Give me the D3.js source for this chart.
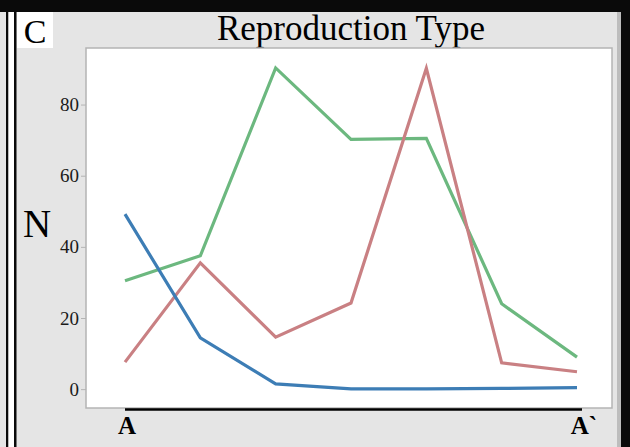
<!DOCTYPE html>
<html>
<head>
<meta charset="utf-8">
<script src="https://cdn.jsdelivr.net/npm/d3@7"></script>
<style>
body { margin: 0; background: #e5e5e5; }
svg { display: block; }
</style>
</head>
<body>
<div id="chart"></div>
<script>
// sites along the transect A -> A`
var sites = [1, 2, 3, 4, 5, 6, 7];
var endLabels = ["A", "A`"];
var yTicks = [0, 20, 40, 60, 80];
var seriesNames = ["sexual", "asexual", "mixed"];
var greenVals = [30.5, 37.5, 90.3, 70.2, 70.5, 24, 9];
var pinkVals = [7.6, 35.5, 14.6, 24.2, 90.2, 7.4, 4.9];
var blueVals = [49.2, 14.4, 1.5, 0.1, 0.1, 0.2, 0.4];
var colours = ["#6cb87f", "#c98083", "#3d7db5"];

var width = 630, height = 447;
var plot = {left: 86, right: 612, top: 48, bottom: 408};
var serif = "Liberation Serif, Times New Roman, serif";

var svg = d3.select("#chart")
.append("svg")
.attr("width", width)
.attr("height", height);

// panel frame
svg.append("rect").attr("width", width).attr("height", height).attr("fill", "#e5e5e5");
svg.append("rect").attr("x", 0).attr("y", 0).attr("width", width).attr("height", 12).attr("fill", "#0a0a0a");
svg.append("rect").attr("x", 621).attr("y", 0).attr("width", 9).attr("height", height).attr("fill", "#0a0a0a");
svg.append("rect").attr("x", 617).attr("y", 12).attr("width", 4).attr("height", height).attr("fill", "#bdbdbd");
svg.append("rect").attr("x", 6).attr("y", 12).attr("width", 2.5).attr("height", height).attr("fill", "#0a0a0a");
svg.append("rect").attr("x", 8.5).attr("y", 12).attr("width", 5.5).attr("height", height).attr("fill", "#ffffff");
svg.append("rect").attr("x", 14).attr("y", 12).attr("width", 2.5).attr("height", height).attr("fill", "#0a0a0a");

// panel letter
svg.append("rect").attr("x", 17).attr("y", 12).attr("width", 36).attr("height", 36).attr("fill", "#fff");
svg.append("text")
.attr("x", 35).attr("y", 43)
.attr("text-anchor", "middle")
.style("font-family", serif)
.style("font-size", "34px")
.text("C");

// title
svg.append("text")
.attr("x", 351).attr("y", 40)
.attr("text-anchor", "middle")
.style("font-family", serif)
.style("font-size", "35px")
.text("Reproduction Type");

// plot area
svg.append("rect")
.attr("x", plot.left).attr("y", plot.top)
.attr("width", plot.right - plot.left).attr("height", plot.bottom - plot.top)
.attr("fill", "#fff")
.attr("stroke", "#b4b4b4")
.attr("stroke-width", 1.5);

var x = d3.scalePoint()
.domain(sites)
.range([125, 577]);

var y = d3.scaleLinear()
.domain([-5.3, 95.9])
.range([plot.bottom, plot.top]);

var yAxis = svg.append("g")
.attr("transform", "translate(" + plot.left + ",0)")
.call(d3.axisLeft(y).tickValues(yTicks).tickSize(5).tickPadding(2));
yAxis.select(".domain").remove();
yAxis.selectAll("line").attr("stroke", "#b4b4b4");
yAxis.selectAll("text")
.style("font-family", serif)
.style("font-size", "19px")
.attr("fill", "#1a1a1a");

svg.append("text")
.attr("x", 37).attr("y", 237)
.attr("text-anchor", "middle")
.style("font-family", serif)
.style("font-size", "39px")
.text("N");

// transect line
svg.append("line")
.attr("x1", x(sites[0])).attr("x2", x(sites[sites.length - 1]) + 5)
.attr("y1", 409.5).attr("y2", 409.5)
.attr("stroke", "#000").attr("stroke-width", 2.5);

svg.selectAll(".end")
.data(endLabels)
.enter()
.append("text")
.attr("class", "end")
.attr("x", function(d, i) { return i == 0 ? x(sites[0]) + 2 : x(sites[sites.length - 1]) + 7; })
.attr("y", 434)
.attr("text-anchor", "middle")
.style("font-family", serif)
.style("font-size", "25px")
.style("font-weight", "bold")
.text(function(d) { return d; });

var series = [greenVals, pinkVals, blueVals].map(function(vals, i) {
    return {name: seriesNames[i], colour: colours[i], values: vals};
});

var line = d3.line()
.x(function(d, i) { return x(sites[i]); })
.y(function(d) { return y(d); });

svg.selectAll(".series")
.data(series)
.enter()
.append("path")
.attr("class", "series")
.attr("d", function(s) { return line(s.values); })
.attr("fill", "none")
.attr("stroke", function(s) { return s.colour; })
.attr("stroke-width", 3.2)
.attr("stroke-linejoin", "miter");
</script>
</body>
</html>
